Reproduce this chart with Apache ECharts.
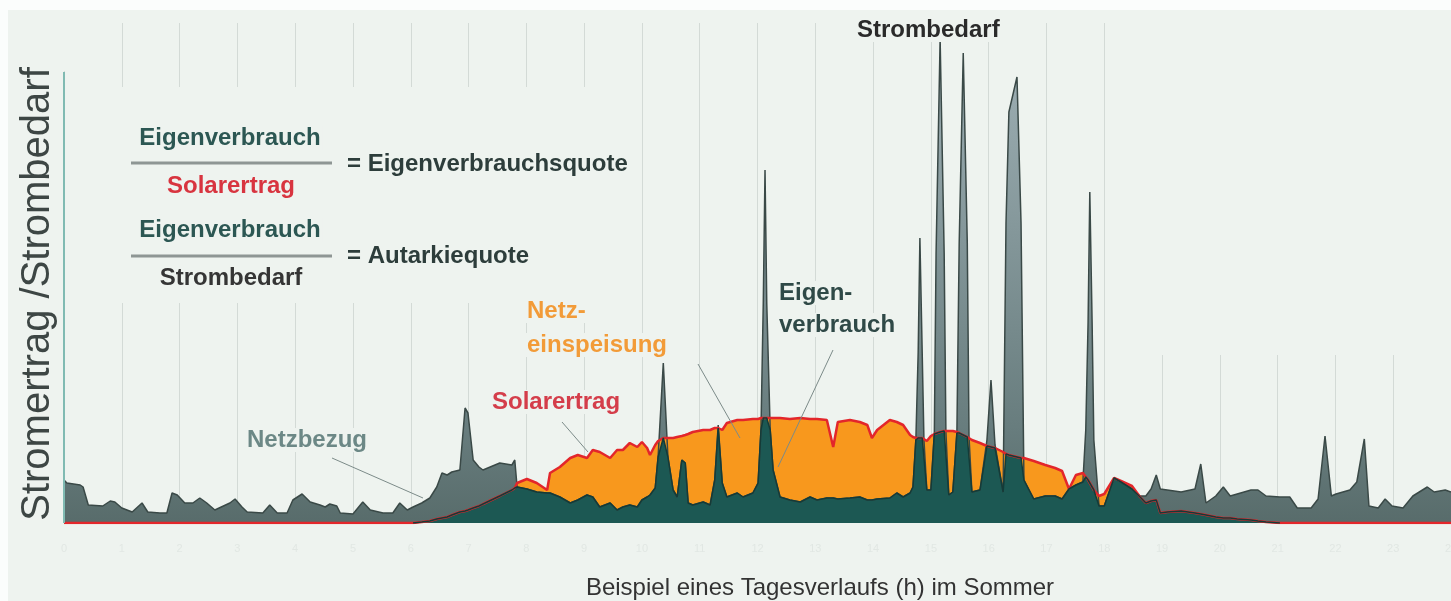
<!DOCTYPE html>
<html>
<head>
<meta charset="utf-8">
<script src="https://cdn.jsdelivr.net/npm/echarts/dist/echarts.min.js"></script>
<style>
  html, body { margin: 0; padding: 0; background: #fff; }
  #chart { width: 1451px; height: 601px; }
</style>
</head>
<body>
<div id="chart"></div>
<script>
// Tagesverlauf: Zeit in Stunden, Werte in relativen Einheiten
var hours = [
  0.00, 0.05, 0.28, 0.33, 0.42, 0.67, 0.80, 0.88, 1.00, 1.18, 1.35, 1.45, 1.66, 1.78, 1.87, 1.96,
  2.09, 2.23, 2.35, 2.47, 2.61, 2.87, 2.96, 3.08, 3.17, 3.44, 3.56, 3.69, 3.86, 3.96, 4.12, 4.26,
  4.43, 4.52, 4.60, 4.72, 4.78, 5.00, 5.17, 5.30, 5.52, 5.69, 5.81, 5.94, 6.04, 6.19, 6.33, 6.45,
  6.54, 6.63, 6.71, 6.85, 6.94, 6.99, 7.08, 7.18, 7.25, 7.54, 7.75, 7.80, 7.84, 8.01, 8.18, 8.36,
  8.41, 8.58, 8.76, 8.89, 9.05, 9.15, 9.27, 9.45, 9.57, 9.67, 9.79, 9.92, 10.00, 10.09, 10.14, 10.23,
  10.28, 10.37, 10.45, 10.54, 10.61, 10.69, 10.75, 10.80, 10.88, 11.06, 11.18, 11.26, 11.32, 11.39, 11.47, 11.65,
  11.75, 11.92, 12.01, 12.06, 12.10, 12.13, 12.16, 12.22, 12.27, 12.39, 12.56, 12.74, 12.91, 13.03, 13.20, 13.31,
  13.39, 13.60, 13.77, 13.90, 13.98, 14.07, 14.29, 14.41, 14.52, 14.64, 14.69, 14.74, 14.78, 14.81, 14.85, 14.88,
  14.93, 15.00, 15.06, 15.09, 15.16, 15.23, 15.26, 15.31, 15.38, 15.45, 15.49, 15.56, 15.63, 15.66, 15.71, 15.85,
  15.97, 16.04, 16.11, 16.25, 16.30, 16.35, 16.49, 16.56, 16.61, 16.78, 16.98, 17.15, 17.27, 17.39, 17.51, 17.63,
  17.68, 17.72, 17.75, 17.79, 17.82, 17.91, 18.00, 18.17, 18.29, 18.48, 18.62, 18.72, 18.81, 18.90, 18.97, 19.09,
  19.33, 19.57, 19.67, 19.76, 19.93, 20.06, 20.18, 20.30, 20.54, 20.66, 20.80, 21.04, 21.21, 21.34, 21.58, 21.70,
  21.82, 21.93, 22.01, 22.25, 22.37, 22.50, 22.58, 22.74, 22.86, 22.98, 23.17, 23.34, 23.59, 23.71, 23.90, 24.00
];

// Strombedarf
var demand = [
  43, 40, 38, 36, 18, 17, 22, 21, 15, 11, 20, 11, 10, 10, 30, 28,
  20, 20, 25, 20, 13, 20, 24, 16, 11, 10, 18, 10, 10, 23, 29, 21,
  18, 16, 19, 17, 10, 9, 21, 13, 10, 10, 20, 13, 16, 20, 25, 36,
  50, 48, 51, 53, 115, 110, 63, 56, 53, 60, 58, 63, 36, 34, 31, 30,
  30, 26, 20, 23, 28, 26, 16, 20, 13, 16, 18, 16, 23, 26, 28, 35,
  66, 160, 66, 33, 26, 63, 60, 20, 18, 21, 18, 43, 98, 40, 26, 30,
  26, 30, 40, 93, 220, 353, 220, 93, 53, 26, 23, 21, 26, 23, 25, 25,
  24, 25, 26, 23, 23, 24, 25, 30, 26, 30, 36, 83, 170, 285, 170, 83,
  33, 33, 91, 270, 484, 270, 91, 28, 31, 90, 280, 470, 280, 86, 31, 33,
  83, 143, 78, 31, 300, 411, 446, 300, 43, 24, 27, 27, 24, 34, 38, 41,
  93, 200, 331, 200, 83, 17, 17, 45, 41, 34, 27, 27, 34, 48, 34, 33,
  31, 34, 59, 20, 27, 36, 27, 29, 33, 33, 27, 26, 26, 15, 15, 24,
  87, 27, 29, 33, 41, 84, 17, 15, 24, 17, 15, 27, 36, 31, 33, 31
];

// Solarertrag
var solar = [
  0, 0, 0, 0, 0, 0, 0, 0, 0, 0, 0, 0, 0, 0, 0, 0,
  0, 0, 0, 0, 0, 0, 0, 0, 0, 0, 0, 0, 0, 0, 0, 0,
  0, 0, 0, 0, 0, 0, 0, 0, 0, 0, 0, 0, 0, 1, 2, 4,
  5, 6, 8, 11, 12, 13, 15, 17, 19, 27, 33, 35, 40, 44, 40, 33,
  50, 56, 65, 68, 65, 73, 71, 65, 73, 73, 80, 76, 81, 75, 68, 78,
  82, 85, 85, 85, 86, 87, 88, 89, 91, 93, 93, 95, 95, 93, 100, 103,
  103, 104, 104, 105, 105, 105, 105, 105, 105, 105, 104, 105, 104, 104, 103, 76,
  101, 103, 101, 98, 85, 93, 103, 101, 98, 88, 86, 85, 85, 85, 85, 84,
  82, 87, 89, 90, 91, 92, 92, 92, 92, 91, 90, 88, 86, 85, 83, 80,
  77, 76, 75, 71, 69, 68, 66, 65, 65, 62, 58, 55, 52, 34, 48, 50,
  46, 43, 40, 36, 33, 27, 29, 45, 42, 37, 26, 20, 22, 23, 10, 11,
  12, 10, 9, 8, 6, 5, 5, 4, 3, 2, 1, 0, 0, 0, 0, 0,
  0, 0, 0, 0, 0, 0, 0, 0, 0, 0, 0, 0, 0, 0, 0, 0
];

// Eigenverbrauch (null = kein Eigenverbrauch in der Nacht)
var ownUse = [
  null, null, null, null, null, null, null, null, null, null, null, null, null, null, null, null,
  null, null, null, null, null, null, null, null, null, null, null, null, null, null, null, null,
  null, null, null, null, null, null, null, null, null, null, null, null, 0, 1, 2, 4,
  5, 6, 8, 11, 12, 13, 15, 17, 19, 27, 33, 35, 36, 34, 31, 30,
  30, 26, 20, 23, 28, 26, 16, 20, 13, 16, 18, 16, 23, 26, 28, 35,
  66, 85, 66, 33, 26, 63, 60, 20, 18, 21, 18, 43, 95, 40, 26, 30,
  26, 30, 40, 93, 105, 105, 105, 93, 53, 26, 23, 21, 26, 23, 25, 25,
  24, 25, 26, 23, 23, 24, 25, 30, 26, 30, 36, 83, 85, 85, 85, 83,
  33, 33, 89, 90, 91, 92, 91, 28, 31, 90, 90, 88, 86, 85, 31, 33,
  77, 76, 75, 31, 69, 68, 66, 65, 43, 24, 27, 27, 24, 34, 38, 41,
  46, 43, 40, 36, 33, 17, 17, 45, 41, 34, 26, 20, 22, 23, 10, 11,
  12, 10, 9, 8, 6, 5, 5, 4, 3, 2, 1, 0, null, null, null, null,
  null, null, null, null, null, null, null, null, null, null, null, null, null, null, null, null
];

function pairs(values) {
  return hours.map(function (h, i) { return [h, values[i]]; });
}

var bg = '#eef3ef';
var boldFont = 'bold 24px "Liberation Sans", Arial, sans-serif';

function label(text, x, y, color, align) {
  return {
    type: 'text', x: x, y: y, z: 20,
    style: {
      text: text, font: boldFont, fill: color,
      textAlign: align || 'left', textVerticalAlign: 'middle',
      backgroundColor: bg, padding: [0, 2]
    }
  };
}

function stroke(x1, y1, x2, y2, color, width) {
  return {
    type: 'line', z: 20,
    shape: { x1: x1, y1: y1, x2: x2, y2: y2 },
    style: { stroke: color, lineWidth: width }
  };
}

var chart = echarts.init(document.getElementById('chart'));

var option = {
  animation: false,
  backgroundColor: bg,
  grid: { left: 64, right: 0, top: 23, bottom: 78, outerBoundsMode: 'none', containLabel: false },
  xAxis: {
    type: 'value',
    min: 0,
    max: 24,
    interval: 1,
    axisLine: { show: false },
    axisTick: { show: false },
    axisLabel: { color: '#e1e7e3', fontSize: 11, margin: 20 },
    splitLine: { show: true, lineStyle: { color: '#d3dad6', width: 1 } }
  },
  yAxis: {
    type: 'value',
    min: 0,
    max: 500,
    show: false
  },
  series: [{
      name: 'Strombedarf',
      type: 'line',
      symbol: 'none',
      data: pairs(demand),
      lineStyle: { color: '#3a4947', width: 1.5 },
      areaStyle: {
        opacity: 1,
        color: new echarts.graphic.LinearGradient(0, 0, 0, 1, [
          { offset: 0, color: '#a0b1b6' },
          { offset: 0.8, color: '#687d7e' },
          { offset: 1, color: '#586c6b' }
        ])
      }
    },
    {
      name: 'Solarertrag',
      type: 'line',
      symbol: 'none',
      data: pairs(solar),
      lineStyle: { color: '#e3262b', width: 2.5 },
      areaStyle: { color: '#f8981d', opacity: 1 }
    },
    {
      name: 'Eigenverbrauch',
      type: 'line',
      symbol: 'none',
      data: pairs(ownUse),
      lineStyle: { color: '#143b38', width: 1.5 },
      areaStyle: { color: '#1c5853', opacity: 1 }
    }
  ],
  graphic: {
    elements: [
      // heller Rand oben und links
      { type: 'rect', z: 30, shape: { x: 0, y: 0, width: 1451, height: 10 }, style: { fill: '#fbfdfc' } },
      { type: 'rect', z: 30, shape: { x: 0, y: 0, width: 8, height: 601 }, style: { fill: '#fbfdfc' } },
      // Flächen ohne Gitterlinien
      { type: 'rect', z: 1, shape: { x: 98, y: 87, width: 538, height: 216 }, style: { fill: bg } },
      { type: 'rect', z: 1, shape: { x: 1130, y: 18, width: 330, height: 337 }, style: { fill: bg } },
      { type: 'rect', z: 1, shape: { x: 58, y: 18, width: 10, height: 53 }, style: { fill: bg } },
      // y-Achse
      stroke(64, 72, 64, 523, '#80bab2', 2),
      {
        type: 'text', x: 38, y: 294, rotation: Math.PI / 2, z: 20,
        style: {
          text: 'Stromertrag /Strombedarf', font: '40px "Liberation Sans", Arial, sans-serif',
          fill: '#3d4644', textAlign: 'center', textVerticalAlign: 'middle'
        }
      },
      {
        type: 'text', x: 820, y: 588, z: 20,
        style: {
          text: 'Beispiel eines Tagesverlaufs (h) im Sommer', font: '24px "Liberation Sans", Arial, sans-serif',
          fill: '#333', textAlign: 'center', textVerticalAlign: 'middle'
        }
      },
      // Formeln
      label('Eigenverbrauch', 230, 138, '#2c5753', 'center'),
      stroke(131, 163, 332, 163, '#8e9694', 3),
      label('Solarertrag', 231, 186, '#d8343f', 'center'),
      label('= Eigenverbrauchsquote', 345, 164, '#2d3d3b'),
      label('Eigenverbrauch', 230, 230, '#2c5753', 'center'),
      stroke(131, 256, 332, 256, '#8e9694', 3),
      label('Strombedarf', 231, 278, '#353535', 'center'),
      label('= Autarkiequote', 345, 256, '#2d3d3b'),
      // Beschriftungen
      label('Strombedarf', 855, 30, '#2a2a2a'),
      label('Netz-', 525, 311, '#f29b38'),
      label('einspeisung', 525, 345, '#f29b38'),
      label('Solarertrag', 490, 402, '#d43d4a'),
      label('Eigen-', 777, 293, '#2f4947'),
      label('verbrauch', 777, 325, '#2f4947'),
      label('Netzbezug', 245, 440, '#6c8886'),
      // Hinweislinien
      stroke(332, 458, 423, 498, '#7c8b89', 1),
      stroke(562, 422, 588, 452, '#7c8b89', 1),
      stroke(698, 364, 740, 438, '#7c8b89', 1),
      stroke(833, 350, 778, 467, '#7c8b89', 1)
    ]
  }
};

chart.setOption(option);
</script>
</body>
</html>
